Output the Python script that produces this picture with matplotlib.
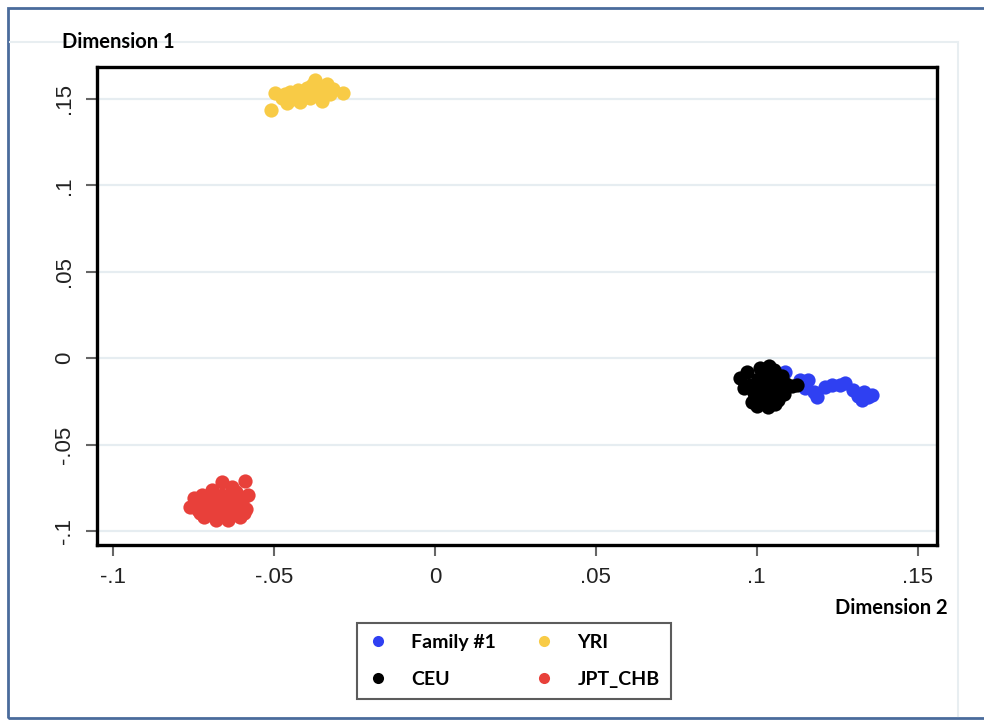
import matplotlib.pyplot as plt
from matplotlib.patches import Rectangle
from matplotlib.lines import Line2D

# MDS coordinates (Dimension 2 on x, Dimension 1 on y)
fam_x = [0.1087, 0.1134, 0.1158, 0.1149, 0.1177, 0.1186, 0.1211, 0.1233,
         0.1258, 0.1273, 0.1298, 0.1314, 0.1332, 0.1345, 0.1357, 0.1326]
fam_y = [-0.0081, -0.0127, -0.0127, -0.0174, -0.0197, -0.0226, -0.0168, -0.0156,
         -0.0156, -0.0145, -0.0185, -0.0220, -0.0197, -0.0226, -0.0214, -0.0243]

ceu_x = [0.0947, 0.0969, 0.0978, 0.0991, 0.0984, 0.1003, 0.1009, 0.1016, 0.1022,
         0.1028, 0.1034, 0.1040, 0.1047, 0.1053, 0.1059, 0.1065, 0.1071, 0.1078,
         0.1090, 0.1109, 0.1124, 0.0960, 0.1000, 0.1037, 0.1056, 0.1084]
ceu_y = [-0.0116, -0.0081, -0.0156, -0.0203, -0.0255, -0.0122, -0.0058, -0.0174,
         -0.0231, -0.0098, -0.0284, -0.0156, -0.0203, -0.0069, -0.0127, -0.0243,
         -0.0174, -0.0104, -0.0150, -0.0162, -0.0156, -0.0174, -0.0278, -0.0046,
         -0.0266, -0.0208]

yri_x = [-0.0509, -0.0497, -0.0475, -0.0460, -0.0450, -0.0438, -0.0425, -0.0419,
         -0.0407, -0.0398, -0.0388, -0.0379, -0.0373, -0.0366, -0.0357, -0.0351,
         -0.0345, -0.0335, -0.0326, -0.0317, -0.0286, -0.0444, -0.0413, -0.0382,
         -0.0363, -0.0466]
yri_y = [0.1435, 0.1534, 0.1505, 0.1476, 0.1539, 0.1516, 0.1551, 0.1481,
         0.1528, 0.1563, 0.1505, 0.1539, 0.1609, 0.1574, 0.1522, 0.1487,
         0.1557, 0.1586, 0.1528, 0.1557, 0.1534, 0.1499, 0.1510, 0.1580,
         0.1557, 0.1528]

jpt_x = [-0.0661, -0.0590, -0.0630, -0.0748, -0.0761, -0.0736, -0.0724, -0.0711,
         -0.0699, -0.0686, -0.0674, -0.0680, -0.0661, -0.0649, -0.0637, -0.0624,
         -0.0612, -0.0599, -0.0587, -0.0606, -0.0643, -0.0717, -0.0739, -0.0693,
         -0.0618, -0.0668, -0.0705, -0.0581, -0.0593, -0.0730]
jpt_y = [-0.0718, -0.0712, -0.0747, -0.0810, -0.0862, -0.0880, -0.0793, -0.0839,
         -0.0903, -0.0810, -0.0868, -0.0938, -0.0793, -0.0845, -0.0903, -0.0804,
         -0.0862, -0.0828, -0.0874, -0.0920, -0.0938, -0.0920, -0.0833, -0.0764,
         -0.0775, -0.0909, -0.0822, -0.0793, -0.0897, -0.0897]

x_ticks = [-0.1, -0.05, 0, 0.05, 0.1, 0.15]
x_tick_labels = ["-.1", "-.05", "0", ".05", ".1", ".15"]
y_ticks = [-0.1, -0.05, 0, 0.05, 0.1, 0.15]
y_tick_labels = ["-.1", "-.05", "0", ".05", ".1", ".15"]

C_FAM = "#2f40f2"
C_CEU = "#000000"
C_YRI = "#f8cb46"
C_JPT = "#e8403a"

tick_font = ["Liberation Sans Narrow", "Liberation Sans", "DejaVu Sans"]
bold_font = ["Lato", "DejaVu Sans"]

fig = plt.figure(figsize=(9.84, 7.26), dpi=100)
ax = fig.add_axes([97 / 984, 1 - 545 / 726, 840 / 984, 478 / 726])

# light grid at the y ticks, behind the points
for yv in y_ticks:
    ax.axhline(yv, color="#e6edf1", lw=1.6, zorder=0)

ms = 105
ax.scatter(fam_x, fam_y, s=ms, color=C_FAM, lw=0, zorder=2, label="Family #1")
ax.scatter(ceu_x, ceu_y, s=ms, color=C_CEU, lw=0, zorder=3, label="CEU")
ax.scatter(yri_x, yri_y, s=ms, color=C_YRI, lw=0, zorder=2, label="YRI")
ax.scatter(jpt_x, jpt_y, s=ms, color=C_JPT, lw=0, zorder=2, label="JPT_CHB")

ax.set_xlim(-0.105, 0.156)
ax.set_ylim(-0.108, 0.1685)
ax.set_xticks(x_ticks)
ax.set_xticklabels(x_tick_labels)
ax.set_yticks(y_ticks)
ax.set_yticklabels(y_tick_labels, rotation=90, va="center")
ax.tick_params(length=8, width=1.5, color="#666666", labelcolor="#222222",
               labelsize=16, pad=8)
for lab in ax.get_xticklabels() + ax.get_yticklabels():
    lab.set_family(tick_font)
for sp in ax.spines.values():
    sp.set_linewidth(2.4)
    sp.set_color("black")

# axis titles
fig.text(62 / 984, 1 - 42 / 726, "Dimension 1", ha="left", va="center",
         fontsize=14.5, fontweight="bold", family=bold_font)
fig.text(948 / 984, 1 - 608 / 726, "Dimension 2", ha="right", va="center",
         fontsize=14.5, fontweight="bold", family=bold_font)

# legend
handles = [Line2D([], [], ls="none", marker="o", ms=8, mew=0, color=c)
           for c in (C_FAM, C_CEU, C_YRI, C_JPT)]
labels = ["Family #1", "CEU", "YRI", "JPT_CHB"]
leg = fig.legend(handles, labels, ncol=2, loc="center",
                 bbox_to_anchor=(514 / 984, 1 - 661 / 726),
                 frameon=True, fancybox=False, edgecolor="#333333",
                 handletextpad=1.2, columnspacing=2.0, labelspacing=1.0,
                 borderpad=0.6, handlelength=1.0,
                 prop={"family": bold_font, "weight": "bold", "size": 14})
leg.get_frame().set_linewidth(1.5)

# outer report frame
fig.add_artist(Line2D([10 / 984, 958 / 984], [1 - 42 / 726] * 2, color="#e8eef1", lw=1.5))
fig.add_artist(Line2D([958 / 984] * 2, [1 - 42 / 726, 1 - 716 / 726], color="#e8eef1", lw=1.5))
fig.add_artist(Rectangle((8 / 984, 1 - 718 / 726), 1.1, 710 / 726, fill=False,
                         edgecolor="#4a6b9c", lw=2, transform=fig.transFigure))

fig.savefig("out.png", dpi=100)
